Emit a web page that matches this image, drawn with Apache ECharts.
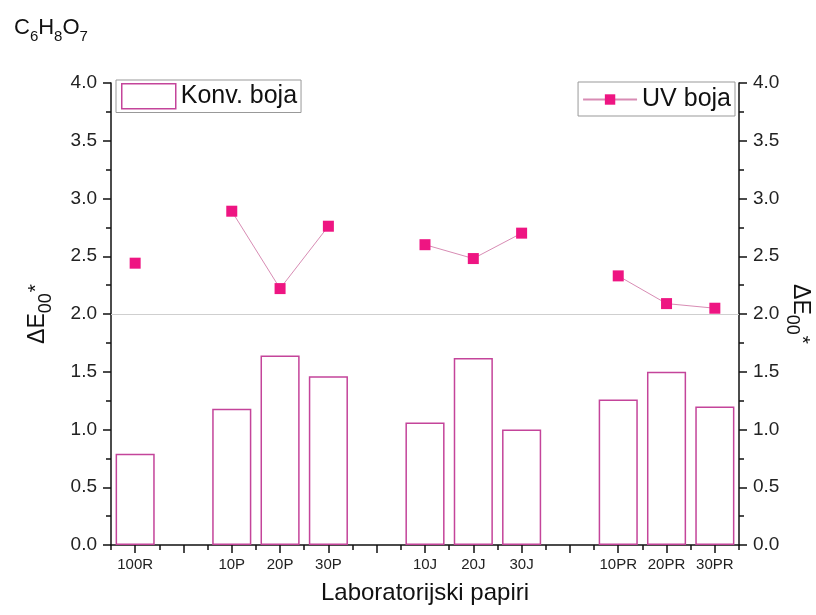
<!DOCTYPE html>
<html>
<head>
<meta charset="utf-8">
<script src="https://cdn.jsdelivr.net/npm/echarts@6/dist/echarts.min.js"></script>
<style>html,body{margin:0;padding:0;background:#fff}#c{width:816px;height:615px}</style>
</head>
<body>
<div id="c"></div>
<script>
const categories = ['100R', '', '10P', '20P', '30P', '', '10J', '20J', '30J', '', '10PR', '20PR', '30PR'];
const konvBoja = [0.79, null, 1.18, 1.64, 1.46, null, 1.06, 1.62, 1.00, null, 1.26, 1.50, 1.20];
const uvBoja = [2.44, null, 2.89, 2.22, 2.76, null, 2.60, 2.48, 2.70, null, 2.33, 2.09, 2.05];
const yTicks = {min: 0, max: 4, interval: 0.5};
const refLine = 2.0;

const FONT = 'Liberation Sans, Arial, sans-serif';
const BAR_COLOR = '#c4449a';
const LINE_COLOR = '#d88cb4';
const MARK_COLOR = '#ee1582';

const chart = echarts.init(document.getElementById('c'), null, {renderer: 'canvas'});

const axisNameRich = {
  d: {fontSize: 23, fontFamily: FONT, color: '#111', verticalAlign: 'bottom', padding: [0, 0, 6, 0]},
  s: {fontSize: 18, fontFamily: FONT, color: '#111', verticalAlign: 'bottom'},
  t: {fontSize: 21, fontFamily: FONT, color: '#111', verticalAlign: 'bottom', padding: [0, 0, 8, 1]}
};

function yAxisCfg(pos) {
  return {
    type: 'value',
    position: pos,
    min: yTicks.min, max: yTicks.max, interval: yTicks.interval,
    name: '{d|ΔE}{s|00}{t|*}',
    nameLocation: 'middle',
    nameGap: pos === 'left' ? 56 : 44,
    nameMoveOverlap: false,
    nameRotate: pos === 'left' ? 90 : -90,
    nameTextStyle: {rich: axisNameRich},
    axisLine: {show: true, lineStyle: {color: '#111', width: 1.5}},
    axisTick: {show: true, length: 8, inside: false, lineStyle: {color: '#111', width: 1.5}},
    minorTick: {show: true, splitNumber: 2, length: 5, lineStyle: {color: '#111', width: 1.5}},
    axisLabel: {fontSize: 19, fontFamily: FONT, color: '#222', margin: 14,
      formatter: v => v.toFixed(1)},
    splitLine: {show: false}
  };
}

chart.setOption({
  animation: false,
  backgroundColor: '#fff',
  title: {
    text: '{a|C}{s|6}{a|H}{s|8}{a|O}{s|7}',
    left: 9, top: 12,
    textStyle: {
      fontWeight: 'normal',
      rich: {
        a: {fontSize: 22, fontFamily: FONT, fontWeight: 'normal', color: '#111', verticalAlign: 'bottom', padding: [0, 0, 5, 0]},
        s: {fontSize: 15, fontFamily: FONT, fontWeight: 'normal', color: '#111', verticalAlign: 'bottom'}
      }
    }
  },
  grid: {left: 111, right: 77, top: 83, bottom: 70, containLabel: false, outerBoundsMode: 'none'},
  legend: [
    {
      data: [{name: 'Konv. boja', icon: 'rect', itemStyle: {color: '#fff', borderColor: BAR_COLOR, borderWidth: 1.5}}],
      left: 116, top: 80,
      itemWidth: 54, itemHeight: 25,
      borderColor: '#999', borderWidth: 1, padding: [3, 4, 3, 5],
      selectedMode: false,
      textStyle: {fontSize: 25, fontFamily: FONT, color: '#111'}
    },
    {
      data: [{name: 'UV boja'}],
      right: 81, top: 82,
      itemWidth: 54, itemHeight: 13,
      borderColor: '#999', borderWidth: 1, padding: [5, 4, 4, 4],
      selectedMode: false,
      textStyle: {fontSize: 25, fontFamily: FONT, color: '#111'}
    }
  ],
  xAxis: [
    {
      type: 'category',
      data: categories,
      position: 'bottom',
      name: 'Laboratorijski papiri',
      nameLocation: 'middle',
      nameGap: 36,
      nameMoveOverlap: false,
      nameTextStyle: {fontSize: 24, fontFamily: FONT, color: '#111'},
      axisLine: {show: true, lineStyle: {color: '#111', width: 1.5}},
      axisTick: {show: true, alignWithLabel: true, interval: 0, length: 8, lineStyle: {color: '#111', width: 1.5}},
      axisLabel: {interval: 0, fontSize: 15, fontFamily: FONT, color: '#222', margin: 12},
      splitLine: {show: false}
    },
    {
      type: 'category',
      data: categories,
      position: 'bottom',
      axisLine: {show: false},
      axisTick: {show: true, alignWithLabel: false, interval: 0, length: 5, lineStyle: {color: '#111', width: 1.5}},
      axisLabel: {show: false},
      splitLine: {show: false}
    }
  ],
  yAxis: [yAxisCfg('left'), yAxisCfg('right')],
  series: [
    {
      name: 'Konv. boja',
      type: 'bar',
      xAxisIndex: 0,
      yAxisIndex: 0,
      data: konvBoja,
      barWidth: '81%',
      itemStyle: {color: 'rgba(255,255,255,0)', borderColor: BAR_COLOR, borderWidth: 1.5},
      markLine: {
        silent: true,
        symbol: 'none',
        label: {show: false},
        lineStyle: {color: '#cfcfcf', width: 1, type: 'solid'},
        data: [{yAxis: refLine}]
      },
      z: 2
    },
    {
      name: 'UV boja',
      type: 'line',
      xAxisIndex: 0,
      yAxisIndex: 1,
      data: uvBoja,
      connectNulls: false,
      symbol: 'rect',
      symbolSize: 11,
      lineStyle: {color: LINE_COLOR, width: 1},
      itemStyle: {color: MARK_COLOR},
      z: 3
    }
  ]
});
</script>
</body>
</html>
